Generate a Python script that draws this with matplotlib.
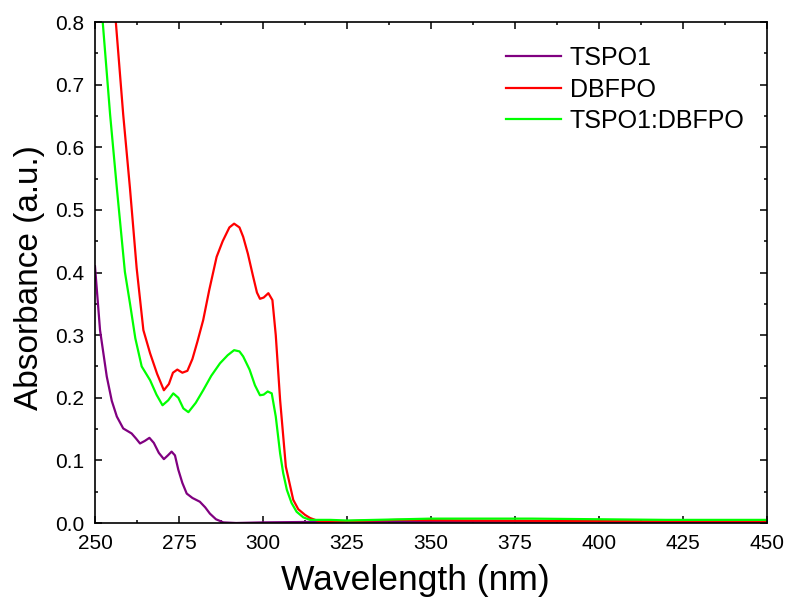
import matplotlib
matplotlib.use('Agg')
import matplotlib.pyplot as plt
from matplotlib.ticker import MultipleLocator

plt.rcParams['font.family'] = ['Liberation Sans', 'DejaVu Sans']

# TSPO1
wl_tspo = [250, 251.5, 253.5, 255, 256.5, 258.4, 260.9, 262.2, 263.4, 264.8, 266.2, 267.5,
           269, 270.5, 271.7, 272.8, 273.8, 274.8, 276, 277.3, 279, 281.2, 282.8, 284.2,
           286, 288.2, 292, 300, 320, 350, 400, 450]
abs_tspo = [0.41, 0.308, 0.234, 0.195, 0.170, 0.151, 0.143, 0.135, 0.127, 0.131, 0.136, 0.128,
            0.112, 0.102, 0.108, 0.114, 0.108, 0.085, 0.064, 0.047, 0.040, 0.034, 0.025, 0.015,
            0.006, 0.001, 0.0, 0.001, 0.002, 0.002, 0.002, 0.001]

# DBFPO
wl_dbfpo = [256.2, 258.4, 260.4, 262.4, 264.4, 266.4, 268.5, 270.5, 272, 273.2, 274.5, 276,
            277.5, 279, 280.5, 282.2, 284, 286.2, 288, 290, 291.4, 293, 294.1, 295.5,
            297, 298.2, 299.1, 300.2, 301.6, 302.8, 303.8, 305.1, 306.8, 309, 310.5,
            312.5, 314, 316, 318, 325, 340, 360, 400, 450]
abs_dbfpo = [0.80, 0.652, 0.535, 0.407, 0.308, 0.271, 0.238, 0.212, 0.222, 0.240, 0.245, 0.240,
             0.243, 0.262, 0.290, 0.324, 0.372, 0.425, 0.450, 0.472, 0.478, 0.472, 0.457, 0.430,
             0.395, 0.368, 0.358, 0.360, 0.367, 0.356, 0.300, 0.196, 0.090, 0.037, 0.022,
             0.013, 0.008, 0.004, 0.002, 0.003, 0.005, 0.004, 0.003, 0.002]

# TSPO1:DBFPO
wl_mix = [252.3, 254.5, 256.5, 258.9, 260.4, 262, 263.9, 266.4, 268.3, 270.1, 271.8, 273.3,
          274.8, 276.3, 277.8, 280, 282.2, 284.6, 287.2, 289.5, 291.4, 293, 294.1, 296,
          297.6, 299.1, 300.2, 301.4, 302.6, 303.8, 305.1, 306, 307.1, 308.5, 310,
          312, 314, 316, 320, 325, 350, 380, 420, 450]
abs_mix = [0.80, 0.652, 0.535, 0.401, 0.351, 0.295, 0.250, 0.228, 0.205, 0.188, 0.196, 0.207,
           0.200, 0.183, 0.177, 0.192, 0.212, 0.235, 0.255, 0.268, 0.276, 0.274, 0.266, 0.245,
           0.220, 0.204, 0.205, 0.210, 0.207, 0.170, 0.111, 0.080, 0.053, 0.032, 0.018,
           0.009, 0.005, 0.005, 0.005, 0.004, 0.007, 0.007, 0.005, 0.005]

fig = plt.figure(figsize=(7.87, 5.98), dpi=100)
ax = fig.add_axes([0.1207, 0.1254, 0.8539, 0.8378])

ax.plot(wl_tspo, abs_tspo, color='#800080', lw=1.6, label='TSPO1')
ax.plot(wl_dbfpo, abs_dbfpo, color='#ff0000', lw=1.6, label='DBFPO')
ax.plot(wl_mix, abs_mix, color='#00ff00', lw=1.6, label='TSPO1:DBFPO')

ax.set_xlim(250, 450)
ax.set_ylim(0, 0.8)
ax.xaxis.set_major_locator(MultipleLocator(25))
ax.xaxis.set_minor_locator(MultipleLocator(12.5))
ax.yaxis.set_major_locator(MultipleLocator(0.1))
ax.yaxis.set_minor_locator(MultipleLocator(0.05))
ax.yaxis.set_major_formatter(plt.FuncFormatter(lambda v, p: '%.1f' % v))

ax.tick_params(which='both', direction='in', top=True, right=True, width=1.1, labelsize=15)
ax.tick_params(which='major', length=5)
ax.tick_params(which='minor', length=2.5)
ax.tick_params(axis='x', which='major', pad=8)
ax.tick_params(axis='y', which='major', pad=8)
for s in ax.spines.values():
    s.set_linewidth(1.2)

ax.set_xlabel('Wavelength (nm)', fontsize=25.5)
ax.xaxis.set_label_coords(0.477, -0.082)
ax.set_ylabel('Absorbance (a.u.)', fontsize=24)
ax.yaxis.set_label_coords(-0.075, 0.49)

ax.legend(loc='upper right', bbox_to_anchor=(1.0, 0.997), frameon=False, fontsize=18,
          handlelength=2.2, handletextpad=0.35, labelspacing=0.3)

fig.savefig('out.png', dpi=100)
